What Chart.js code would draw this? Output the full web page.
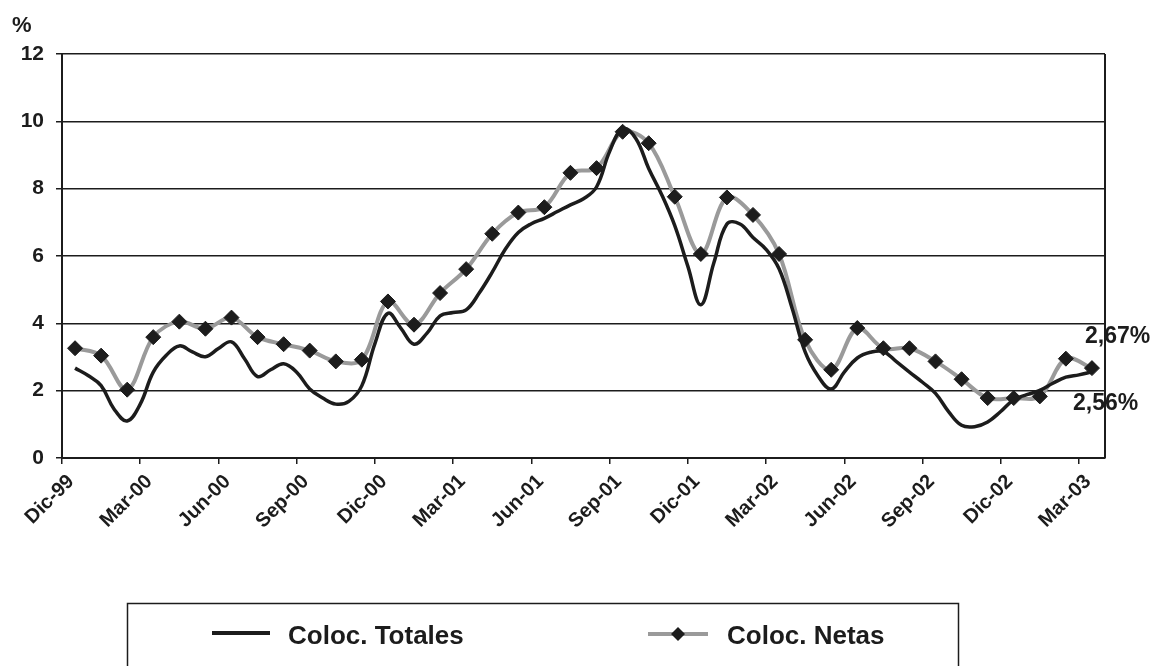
<!DOCTYPE html>
<html>
<head>
<meta charset="utf-8">
<script src="https://cdn.jsdelivr.net/npm/chart.js@4.4.1/dist/chart.umd.min.js"></script>
<style>
html,body{margin:0;padding:0;background:#fff}
canvas{display:block}
</style>
</head>
<body>
<canvas id="chart" width="1156" height="666"></canvas>
<script>
// monthly categories, Dic-99 .. Mar-03
const months = ["Dic-99","Ene-00","Feb-00","Mar-00","Abr-00","May-00","Jun-00","Jul-00","Ago-00","Sep-00","Oct-00","Nov-00",
  "Dic-00","Ene-01","Feb-01","Mar-01","Abr-01","May-01","Jun-01","Jul-01","Ago-01","Sep-01","Oct-01","Nov-01",
  "Dic-01","Ene-02","Feb-02","Mar-02","Abr-02","May-02","Jun-02","Jul-02","Ago-02","Sep-02","Oct-02","Nov-02",
  "Dic-02","Ene-03","Feb-03","Mar-03"];

const tickLabels = ["Dic-99","Mar-00","Jun-00","Sep-00","Dic-00","Mar-01","Jun-01","Sep-01","Dic-01","Mar-02","Jun-02","Sep-02","Dic-02","Mar-03"];

// Coloc. Netas - one value per month
const netas = [3.26,3.04,2.03,3.59,4.05,3.84,4.17,3.59,3.38,3.19,2.87,2.92,
  4.65,3.96,4.90,5.61,6.66,7.29,7.45,8.47,8.61,9.69,9.35,7.76,
  6.06,7.74,7.22,6.06,3.51,2.62,3.86,3.26,3.26,2.87,2.34,1.78,
  1.78,1.83,2.95,2.67];

// Coloc. Totales - two readings per month (half-month steps from Dic-99)
const totales = [2.67,2.45,2.15,1.45,1.10,1.60,2.55,3.05,3.33,3.15,3.01,3.25,3.45,2.95,2.42,2.62,2.80,2.55,2.05,1.78,
  1.60,1.68,2.15,3.40,4.30,3.85,3.38,3.71,4.22,4.32,4.40,4.90,5.52,6.20,6.70,6.96,7.12,7.32,7.52,7.70,
  8.05,9.10,9.78,9.50,8.60,7.82,6.90,5.70,4.55,5.80,6.95,6.95,6.55,6.20,5.62,4.45,3.15,2.43,2.05,2.55,
  2.97,3.14,3.16,2.86,2.55,2.25,1.92,1.38,0.97,0.93,1.07,1.38,1.73,1.88,2.01,2.22,2.40,2.47,2.56];

const ink = "#1c1c1c";
const grey = "#9a9a9a";
const font = "'Liberation Sans', Arial, sans-serif";

const netasPts = netas.map((v, i) => ({x: i + 0.5, y: v}));
const totalesPts = totales.map((v, k) => ({x: 0.5 + k * 0.5, y: v}));

// extra drawing: % unit, end labels, right frame, legend box
const extras = {
  id: "extras",
  afterDraw(chart) {
    const ctx = chart.ctx;
    const a = chart.chartArea;
    ctx.save();
    ctx.strokeStyle = ink;
    ctx.lineWidth = 2;
    ctx.beginPath();
    ctx.moveTo(a.right, a.top);
    ctx.lineTo(a.right, a.bottom);
    ctx.stroke();

    ctx.fillStyle = ink;
    ctx.font = "bold 22px " + font;
    ctx.textBaseline = "alphabetic";
    ctx.fillText("%", 12, 32);

    ctx.font = "bold 23px " + font;
    const fmt = v => v.toFixed(2).replace(".", ",") + "%";
    ctx.fillText(fmt(netas[netas.length - 1]), 1085, 343);
    ctx.fillText(fmt(totales[totales.length - 1]), 1073, 410);

    // legend
    ctx.lineWidth = 1.5;
    ctx.strokeRect(127.5, 603.5, 831, 120);
    ctx.lineWidth = 4;
    ctx.strokeStyle = ink;
    ctx.beginPath(); ctx.moveTo(212, 633); ctx.lineTo(270, 633); ctx.stroke();
    ctx.strokeStyle = grey;
    ctx.beginPath(); ctx.moveTo(648, 634); ctx.lineTo(708, 634); ctx.stroke();
    ctx.fillStyle = ink;
    ctx.beginPath();
    ctx.moveTo(678, 627); ctx.lineTo(685, 634); ctx.lineTo(678, 641); ctx.lineTo(671, 634);
    ctx.closePath(); ctx.fill();
    ctx.font = "bold 26px " + font;
    ctx.fillText("Coloc. Totales", 288, 644);
    ctx.fillText("Coloc. Netas", 727, 644);
    ctx.restore();
  }
};

new Chart(document.getElementById("chart"), {
  type: "line",
  data: {
    datasets: [
      {
        label: "Coloc. Totales",
        data: totalesPts,
        borderColor: ink,
        borderWidth: 3.5,
        pointRadius: 0,
        tension: 0.4
      },
      {
        label: "Coloc. Netas",
        data: netasPts,
        borderColor: grey,
        borderWidth: 4,
        pointStyle: "rectRot",
        pointRadius: 7.5,
        pointBackgroundColor: ink,
        pointBorderColor: ink,
        pointBorderWidth: 1,
        tension: 0.35
      }
    ]
  },
  options: {
    responsive: false,
    animation: false,
    layout: {padding: {top: 54, right: 51, left: 0, bottom: 0}},
    plugins: {legend: {display: false}, tooltip: {enabled: false}},
    scales: {
      x: {
        type: "linear",
        min: 0,
        max: 40,
        afterBuildTicks: scale => {
          scale.ticks = tickLabels.map((_, j) => ({value: j * 3}));
        },
        afterFit: scale => { scale.height = 208; },
        grid: {drawOnChartArea: false, drawTicks: true, tickLength: 6, color: ink, lineWidth: 1.5},
        border: {color: ink, width: 2},
        ticks: {
          autoSkip: false,
          maxRotation: 45,
          minRotation: 45,
          labelOffset: 9,
          padding: 6,
          color: ink,
          font: {family: font, size: 20, weight: "bold"},
          callback: (v, i) => tickLabels[i]
        }
      },
      y: {
        min: 0,
        max: 12,
        afterFit: scale => { scale.width = 62; },
        grid: {color: ink, lineWidth: 1.5, tickLength: 6},
        border: {color: ink, width: 2},
        ticks: {
          stepSize: 2,
          padding: 12,
          color: ink,
          font: {family: font, size: 21, weight: "bold"}
        }
      }
    }
  },
  plugins: [extras]
});
</script>
</body>
</html>
